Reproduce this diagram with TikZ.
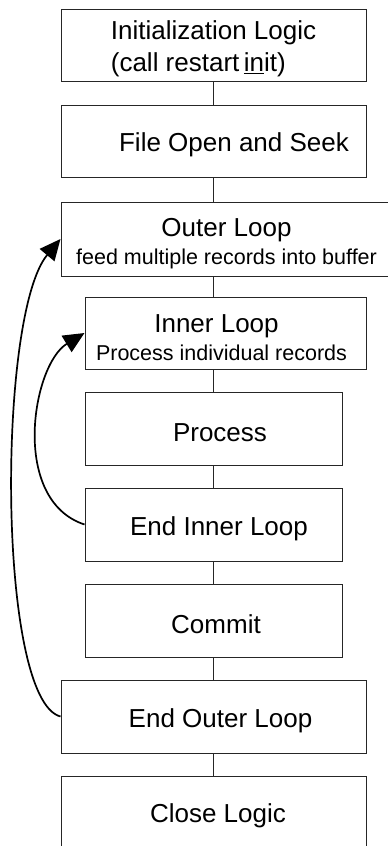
\documentclass[tikz,border=0pt]{standalone}
\usepackage{fontspec}
\setmainfont{Liberation Sans}
\usetikzlibrary{arrows.meta}
\newcommand{\smallline}{\fontsize{21.5}{26}\selectfont}
\newcommand{\lowr}{\rule{0pt}{27pt}}
\begin{document}
\begin{tikzpicture}[x=1pt,y=-1pt,
  box/.style={draw=black!85, line width=1pt, rectangle, inner sep=0pt,
    font=\fontsize{26}{32}\selectfont, align=center},
  link/.style={draw=black!85, line width=1pt},
  loopback/.style={draw=black, line width=1.7pt, -{Triangle[length=21pt,width=19pt]}}]
\useasboundingbox (0,0) rectangle (388,846);
\node[box, minimum width=305pt, minimum height=72pt, align=left] (init) at (213.5,45)
  {\lowr Initialization Logic\\(call restart\,\underline{in}it)};
\node[box, minimum width=305pt, minimum height=72pt] (fos) at (213.5,141)
  {\lowr\hspace*{41pt}File Open and Seek};
\node[box, minimum width=331pt, minimum height=74pt] (outer) at (226.5,239)
  {\lowr Outer Loop\\[-4pt]{\smallline feed multiple records into buffer}};
\node[box, minimum width=281pt, minimum height=72pt] (inner) at (225.5,333)
  {\lowr Inner Loop\hspace*{18pt}\\[-4pt]{\smallline Process individual records\hspace*{8pt}}};
\node[box, minimum width=257pt, minimum height=73pt] (proc) at (213.5,428.5)
  {\lowr\hspace*{13pt}Process};
\node[box, minimum width=257pt, minimum height=73pt] (endin) at (213.5,524.5)
  {\lowr\hspace*{11pt}End Inner Loop};
\node[box, minimum width=257pt, minimum height=73pt] (commit) at (213.5,620.5)
  {\lowr\hspace*{5pt}Commit};
\node[box, minimum width=305pt, minimum height=73pt] (endout) at (213.5,716.5)
  {\lowr\hspace*{14pt}End Outer Loop};
\node[box, minimum width=305pt, minimum height=72pt] (close) at (213.5,812)
  {\lowr\hspace*{9pt}Close Logic};
\draw[link] (init.south) -- (fos.north);
\draw[link] (fos.south) -- (fos.south |- outer.north);
\draw[link] (outer.south -| fos.south) -- (inner.north -| fos.south);
\draw[link] (inner.south -| fos.south) -- (proc.north);
\draw[link] (proc.south) -- (endin.north);
\draw[link] (endin.south) -- (commit.north);
\draw[link] (commit.south) -- (endout.north);
\draw[link] (endout.south) -- (close.north);
\draw[loopback] (endout.west) .. controls (-3,700) and (-3,315) .. (outer.west);
\draw[loopback] (endin.west) .. controls (10,500) and (32,365) .. (inner.west);
\end{tikzpicture}
\end{document}
